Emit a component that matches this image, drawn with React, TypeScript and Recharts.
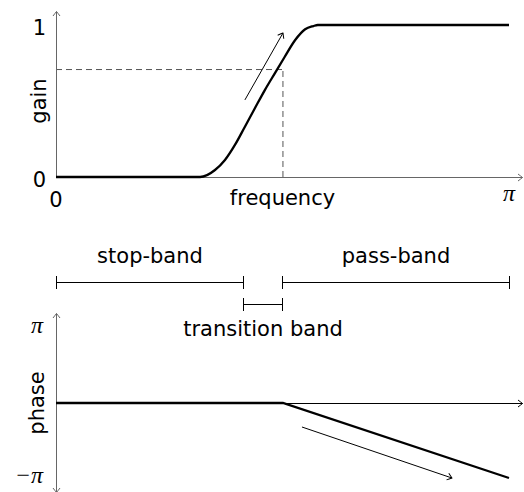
import React from 'react';
import { ComposedChart, Line, XAxis, YAxis, ReferenceLine, Label } from 'recharts';

// ---- data ----
const FREQ = [0, 0.318, 0.351, 0.373, 0.395, 0.417, 0.439, 0.461, 0.483, 0.505, 0.528, 0.55, 0.568, 0.578, 1];
const GAIN = [0, 0, 0.046, 0.112, 0.211, 0.331, 0.452, 0.572, 0.682, 0.791, 0.901, 0.972, 0.993, 1, 1];
const PHASE_FREQ = [0, 0.501, 1];
const PHASE = [0, 0, -1];
const CUTOFF_FREQ = 0.501;
const CUTOFF_GAIN = 0.707;
const BAND_NAMES = ['stop-band', 'transition band', 'pass-band'];
const BAND_START = [0, 0.415, 0.501];
const BAND_END = [0.415, 0.501, 1];
const BAND_ROW = [1.613, 1.307, 1.613];
const FREQ_TICKS = [0, 1];
const FREQ_TICK_LABELS = ['0', 'π'];
const GAIN_TICKS = [0, 1];
const GAIN_TICK_LABELS = ['0', '1'];
const PHASE_TICKS = [-1, 1];
const PHASE_TICK_LABELS = ['−π', 'π'];
const GAIN_ARROW_FROM = [0.417, 0.507];
const GAIN_ARROW_TO = [0.501, 0.947];
const PHASE_ARROW_FROM = [0.543, -0.32];
const PHASE_ARROW_TO = [0.874, -1.0];
const FREQ_AXIS_END = 1.029;
const GAIN_AXIS_END = 1.09;
const PHASE_AXIS_END = 1.187;

const gainData = FREQ.map((f, i) => ({ f, g: GAIN[i] }));
const phaseData = PHASE_FREQ.map((f, i) => ({ f, p: PHASE[i] }));

const SANS = "'DejaVu Sans', sans-serif";
const MATH = "'Liberation Serif', serif";
const AXIS_GRAY = '#666';

const snap = (v: number) => Math.round(v - 0.5) + 0.5;

const Markers = () => (
  <svg width={0} height={0} style={{ position: 'absolute' }}>
    <defs>
      {[
        ['arrow-black', '#000'],
        ['arrow-gray', AXIS_GRAY],
      ].map(([id, c]) => (
        <marker
          key={id}
          id={id}
          viewBox="-6 -5 7 10"
          refX={0}
          refY={0}
          markerWidth={7}
          markerHeight={10}
          markerUnits="userSpaceOnUse"
          orient="auto-start-reverse"
        >
          <path d="M -4.5 -3.5 Q -1.2 -1 0 0 Q -1.2 1 -4.5 3.5" fill="none" stroke={c} strokeWidth={1} />
        </marker>
      ))}
    </defs>
  </svg>
);

const arrowShape = (color: string, id: string, both = false, straight = false) => (props: any) => {
  const f = straight ? snap : (v: number) => v;
  return (
    <line
      x1={f(props.x1)}
      y1={f(props.y1)}
      x2={f(props.x2)}
      y2={f(props.y2)}
      stroke={color}
      strokeWidth={1}
      markerEnd={`url(#${id})`}
      markerStart={both ? `url(#${id})` : undefined}
    />
  );
};

const bandShape = (name: string, below: boolean) => (props: any) => {
  const x1 = snap(props.x1);
  const x2 = snap(props.x2);
  const y = snap(props.y1);
  const h = 6.5;
  return (
    <g>
      <line x1={x1} y1={y} x2={x2} y2={y} stroke="#000" strokeWidth={1} />
      <line x1={x1} y1={y - h} x2={x1} y2={y + h} stroke="#000" strokeWidth={1} />
      <line x1={x2} y1={y - h} x2={x2} y2={y + h} stroke="#000" strokeWidth={1} />
      <text
        x={(x1 + x2) / 2}
        y={below ? y + 31.5 : y - 19.5}
        textAnchor="middle"
        fontFamily={SANS}
        fontSize={21}
        fill="#000"
      >
        {name}
      </text>
    </g>
  );
};

const FreqTick = (props: any) => {
  const { x, y, payload } = props;
  const idx = FREQ_TICKS.indexOf(payload.value);
  const isPi = FREQ_TICK_LABELS[idx] === 'π';
  return (
    <text
      x={x}
      y={isPi ? y + 16 : y + 22}
      textAnchor="middle"
      fontFamily={isPi ? MATH : SANS}
      fontStyle={isPi ? 'italic' : 'normal'}
      fontSize={isPi ? 24 : 21}
      fill="#000"
    >
      {FREQ_TICK_LABELS[idx]}
    </text>
  );
};

const GainTick = (props: any) => {
  const { x, y, payload } = props;
  const idx = GAIN_TICKS.indexOf(payload.value);
  return (
    <text x={x} y={y + 10} textAnchor="end" fontFamily={SANS} fontSize={21} fill="#000">
      {GAIN_TICK_LABELS[idx]}
    </text>
  );
};

const PhaseTick = (props: any) => {
  const { x, y, payload } = props;
  const idx = PHASE_TICKS.indexOf(payload.value);
  return (
    <text x={x - 2} y={y + 5} textAnchor="end" fontFamily={MATH} fontStyle="italic" fontSize={24} fill="#000">
      {PHASE_TICK_LABELS[idx]}
    </text>
  );
};

const rotatedLabel = (text: string, cx: number) => (props: any) => {
  const vb = props.viewBox;
  const cy = vb.y + vb.height / 2;
  return (
    <text
      x={cx}
      y={cy}
      transform={`rotate(-90 ${cx} ${cy})`}
      textAnchor="middle"
      dominantBaseline="central"
      fontFamily={SANS}
      fontSize={21}
      fill="#000"
    >
      {text}
    </text>
  );
};

export default function App() {
  return (
    <div style={{ position: 'absolute', left: 0, top: 0, width: 524, height: 492, background: '#fff' }}>
      <Markers />
      {/* gain chart */}
      <div style={{ position: 'absolute', left: 0, top: 0 }}>
        <ComposedChart width={524} height={215} data={gainData} margin={{ top: 25, right: 15, bottom: 8, left: 0 }}>
          <XAxis
            type="number"
            dataKey="f"
            domain={[0, 1]}
            ticks={FREQ_TICKS}
            interval={0}
            axisLine={false}
            tickLine={false}
            height={30}
            tick={<FreqTick />}
          >
            <Label
              content={(p: any) => (
                <text
                  x={p.viewBox.x + p.viewBox.width / 2}
                  y={p.viewBox.y + 28}
                  textAnchor="middle"
                  fontFamily={SANS}
                  fontSize={21}
                  fill="#000"
                >
                  frequency
                </text>
              )}
            />
          </XAxis>
          <YAxis
            type="number"
            domain={[0, 1]}
            ticks={GAIN_TICKS}
            interval={0}
            width={56}
            axisLine={false}
            tickLine={false}
            tickMargin={4}
            tick={<GainTick />}
          >
            <Label content={rotatedLabel('gain', 39)} />
          </YAxis>
          <ReferenceLine
            segment={[{ x: 0, y: CUTOFF_GAIN }, { x: CUTOFF_FREQ, y: CUTOFF_GAIN }]}
            stroke="#555"
            strokeDasharray="6 4"
            ifOverflow="visible"
          />
          <ReferenceLine
            segment={[{ x: CUTOFF_FREQ, y: 0 }, { x: CUTOFF_FREQ, y: CUTOFF_GAIN }]}
            stroke="#555"
            strokeDasharray="6 4"
            ifOverflow="visible"
          />
          <ReferenceLine
            segment={[{ x: 0, y: 0 }, { x: FREQ_AXIS_END, y: 0 }]}
            ifOverflow="visible"
            shape={arrowShape(AXIS_GRAY, 'arrow-gray', false, true)}
          />
          <ReferenceLine
            segment={[{ x: 0, y: 0 }, { x: 0, y: GAIN_AXIS_END }]}
            ifOverflow="visible"
            shape={arrowShape(AXIS_GRAY, 'arrow-gray', false, true)}
          />
          <ReferenceLine
            segment={[
              { x: GAIN_ARROW_FROM[0], y: GAIN_ARROW_FROM[1] },
              { x: GAIN_ARROW_TO[0], y: GAIN_ARROW_TO[1] },
            ]}
            ifOverflow="visible"
            shape={arrowShape('#000', 'arrow-black')}
          />
          <Line
            type="monotone"
            dataKey="g"
            stroke="#000"
            strokeWidth={2.3}
            dot={false}
            activeDot={false}
            isAnimationActive={false}
          />
        </ComposedChart>
      </div>

      {/* phase chart (with the band annotations above it) */}
      <div style={{ position: 'absolute', left: 0, top: 230 }}>
        <ComposedChart width={524} height={262} data={phaseData} margin={{ top: 98, right: 15, bottom: 14, left: 0 }}>
          <XAxis type="number" dataKey="f" domain={[0, 1]} hide />
          <YAxis
            type="number"
            domain={[-1, 1]}
            ticks={PHASE_TICKS}
            interval={0}
            width={56}
            axisLine={false}
            tickLine={false}
            tickMargin={5}
            tick={<PhaseTick />}
          >
            <Label content={rotatedLabel('phase', 37)} />
          </YAxis>
          {BAND_NAMES.map((name, i) => (
            <ReferenceLine
              key={name}
              segment={[
                { x: BAND_START[i], y: BAND_ROW[i] },
                { x: BAND_END[i], y: BAND_ROW[i] },
              ]}
              ifOverflow="visible"
              shape={bandShape(name, BAND_ROW[i] < 1.5)}
            />
          ))}
          <ReferenceLine
            segment={[{ x: 0, y: -PHASE_AXIS_END }, { x: 0, y: PHASE_AXIS_END }]}
            ifOverflow="visible"
            shape={arrowShape(AXIS_GRAY, 'arrow-gray', true, true)}
          />
          <ReferenceLine
            segment={[{ x: 0, y: 0 }, { x: FREQ_AXIS_END, y: 0 }]}
            ifOverflow="visible"
            shape={arrowShape('#000', 'arrow-black', false, true)}
          />
          <ReferenceLine
            segment={[
              { x: PHASE_ARROW_FROM[0], y: PHASE_ARROW_FROM[1] },
              { x: PHASE_ARROW_TO[0], y: PHASE_ARROW_TO[1] },
            ]}
            ifOverflow="visible"
            shape={arrowShape('#000', 'arrow-black')}
          />
          <Line
            type="linear"
            dataKey="p"
            stroke="#000"
            strokeWidth={2.3}
            dot={false}
            activeDot={false}
            isAnimationActive={false}
          />
        </ComposedChart>
      </div>
    </div>
  );
}
